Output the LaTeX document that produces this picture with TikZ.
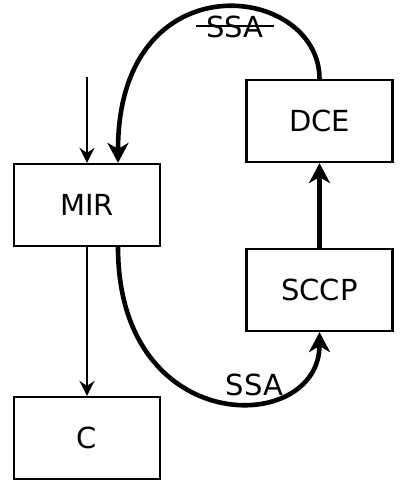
\documentclass[tikz,border=0pt]{standalone}
\usepackage{fontspec}
\setmainfont{DejaVu Sans}
\usetikzlibrary{arrows.meta}
\begin{document}
\begin{tikzpicture}[x=1pt,y=-1pt,
  box/.style={draw,line width=2.2pt,minimum width=146pt,minimum height=82pt,inner sep=0pt,font=\fontsize{29}{34}\selectfont},
  lbl/.style={inner sep=0pt,font=\fontsize{29}{34}\selectfont},
  thinarrow/.style={line width=2.2pt,-{Stealth[length=15pt,width=15pt,inset=5pt]}},
  thickarrow/.style={line width=4.6pt,-{Stealth[length=20pt,width=21pt,inset=6pt]}}]
\useasboundingbox (0,0) rectangle (408,481);
\node[box] (mir) at (87,205) {MIR};
\node[box] (c) at (87,438) {C};
\node[box] (dce) at (319.5,121) {DCE};
\node[box] (sccp) at (319.5,290) {SCCP};
\coordinate (in) at (87,77);
\draw[thinarrow] (in) -- (mir.north);
\draw[thinarrow] (mir.south) -- (c.north);
\draw[thickarrow] (sccp.north) -- (dce.south);
\draw[thickarrow] (dce.north) .. controls +(0,-96) and +(0,-205) .. ([xshift=31pt]mir.north);
\draw[thickarrow] ([xshift=31pt]mir.south) .. controls +(0,192) and +(0,104) .. (sccp.south);
\node[lbl] (ssatop) at (235,27) {SSA};
\draw[line width=2.2pt] ([xshift=-10pt,yshift=1pt]ssatop.west) -- ([xshift=10pt,yshift=1pt]ssatop.east);
\node[lbl] (ssabot) at (254.5,385) {SSA};
\end{tikzpicture}
\end{document}
